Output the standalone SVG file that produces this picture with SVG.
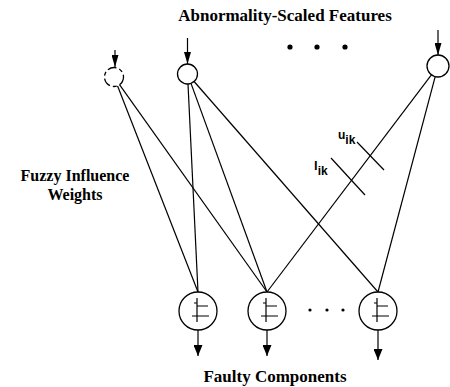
<svg xmlns="http://www.w3.org/2000/svg" width="450" height="387" viewBox="0 0 450 387">
  <style>
    .lbl { font-family: "Liberation Serif", "Times New Roman", serif; font-size: 17px; font-weight: bold; fill: #000; }
    .side { font-size: 16px; }
    .sub { font-family: "Liberation Sans", Arial, sans-serif; font-weight: bold; fill: #000; }
    .node { fill: #fff; stroke: #000; stroke-width: 1.3; }
    .wire { fill: none; stroke: #000; stroke-width: 1.2; }
    .sym { fill: none; stroke: #000; stroke-width: 1.2; }
    .dot { fill: #000; }
  </style>
  <defs>
    <marker id="headIn" markerUnits="userSpaceOnUse" markerWidth="12" markerHeight="7" refX="12" refY="3.5" orient="auto">
      <path d="M0,0 L12,3.5 L0,7 z" fill="#000"/>
    </marker>
    <marker id="headOut" markerUnits="userSpaceOnUse" markerWidth="11" markerHeight="9" refX="11" refY="4.5" orient="auto">
      <path d="M0,0 L11,4.5 L0,9 z" fill="#000"/>
    </marker>
    <!-- step-like transfer symbol drawn inside each output unit -->
    <g id="step">
      <path class="sym" d="M-1,-13 V11 M-4,-8 H-1 M-1,-5 H10 M-6,5 H11"/>
    </g>
  </defs>

  <rect width="450" height="387" fill="#fff"/>

  <!-- labels -->
  <text class="lbl" x="285" y="21" text-anchor="middle">Abnormality-Scaled Features</text>
  <text class="lbl side" x="75" y="181" text-anchor="middle">Fuzzy Influence</text>
  <text class="lbl side" x="75" y="200" text-anchor="middle">Weights</text>
  <text class="lbl" x="275" y="382" text-anchor="middle">Faulty Components</text>

  <!-- ellipsis between feature inputs -->
  <g id="feature-dots">
    <circle class="dot" cx="290" cy="47" r="2.6"/>
    <circle class="dot" cx="317" cy="47" r="2.6"/>
    <circle class="dot" cx="345" cy="47" r="2.6"/>
  </g>

  <!-- ellipsis between output units -->
  <g id="output-dots">
    <circle class="dot" cx="310" cy="310" r="1.6"/>
    <circle class="dot" cx="327" cy="310" r="1.6"/>
    <circle class="dot" cx="343" cy="310" r="1.6"/>
  </g>

  <!-- connectors -->
  <g id="connectors">
    <!-- feature inputs -->
    <line class="wire" x1="115" y1="50" x2="115" y2="67" marker-end="url(#headIn)"/>
    <line class="wire" x1="187.5" y1="38" x2="187.5" y2="64" marker-end="url(#headIn)"/>
    <line class="wire" x1="438" y1="30" x2="438" y2="55" marker-end="url(#headIn)"/>
    <!-- weighted links -->
    <line class="wire" x1="117.5" y1="85.8" x2="198" y2="292"/>
    <line class="wire" x1="119.5" y1="84.7" x2="267" y2="292"/>
    <line class="wire" x1="188" y1="84" x2="198" y2="292"/>
    <line class="wire" x1="191" y1="83.4" x2="267" y2="292"/>
    <line class="wire" x1="194.1" y1="81.5" x2="378" y2="292"/>
    <line class="wire" x1="431.4" y1="74.8" x2="267" y2="292"/>
    <line class="wire" x1="435.2" y1="76.6" x2="378" y2="292"/>
    <!-- weight bounds marked on one link -->
    <line class="wire" x1="357" y1="142" x2="384" y2="170"/>
    <line class="wire" x1="331" y1="158" x2="365" y2="195"/>
    <!-- outputs -->
    <line class="wire" x1="198" y1="330" x2="198" y2="356" marker-end="url(#headOut)"/>
    <line class="wire" x1="267" y1="330" x2="267" y2="356" marker-end="url(#headOut)"/>
    <line class="wire" x1="378" y1="330" x2="378" y2="360" marker-end="url(#headOut)"/>
  </g>

  <!-- weight bound labels -->
  <text class="sub" x="338" y="139" font-size="12">u<tspan font-size="12" dy="5">ik</tspan></text>
  <text class="sub" x="314" y="170" font-size="13">l<tspan font-size="12" dy="5">ik</tspan></text>

  <!-- input feature nodes -->
  <g id="feature-1">
    <circle class="node" cx="114" cy="77" r="9.5" stroke-dasharray="9 3 4 3"/>
  </g>
  <g id="feature-2">
    <circle class="node" cx="187.5" cy="74" r="10"/>
  </g>
  <g id="feature-n">
    <circle class="node" cx="438" cy="66" r="11"/>
  </g>

  <!-- output component nodes -->
  <g id="component-1">
    <circle class="node" cx="198" cy="311" r="19"/>
    <use href="#step" x="198" y="311"/>
  </g>
  <g id="component-2">
    <circle class="node" cx="267" cy="311" r="19"/>
    <use href="#step" x="267" y="311"/>
  </g>
  <g id="component-m">
    <circle class="node" cx="378" cy="311" r="19"/>
    <use href="#step" x="378" y="311"/>
  </g>
</svg>
